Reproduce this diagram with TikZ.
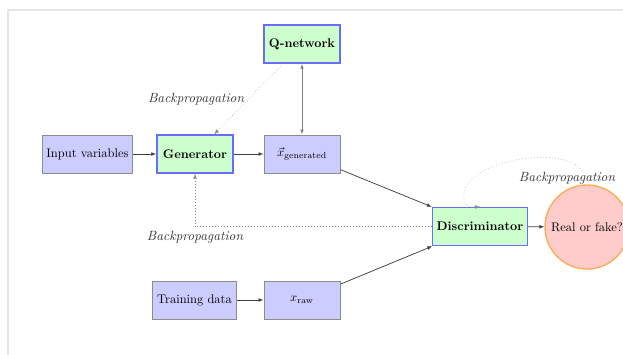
\documentclass[tikz,border=0pt]{standalone}
\usetikzlibrary{arrows.meta}
\definecolor{boxblue}{HTML}{CCCCFF}
\definecolor{boxgreen}{HTML}{CCFFCC}
\definecolor{edgeblue}{HTML}{6B6BFF}
\definecolor{circfill}{HTML}{FFCCCC}
\definecolor{circedge}{HTML}{FFAA55}
\definecolor{framegray}{HTML}{E6E6E6}
\begin{document}
\begin{tikzpicture}[x=0.8pt,y=-0.8pt,
  >={Latex[length=4pt,width=3pt]},
  plainbox/.style={draw=black!45,fill=boxblue,thick,minimum width=60.8pt,minimum height=30.4pt,inner sep=3.33pt},
  netbox/.style={draw=edgeblue,fill=boxgreen,line width=1.1pt,minimum width=60.8pt,minimum height=30.4pt,font=\bfseries},
  outcirc/.style={circle,draw=circedge,fill=circfill,line width=1.1pt,minimum size=67.2pt,inner sep=0pt},
  conn/.style={->,draw=black!75,semithick},
  backprop/.style={->,dotted,draw=black!45},
  bplabel/.style={font=\fontsize{10.7}{13}\selectfont\itshape,text=black!80}]
\useasboundingbox (0,0) rectangle (623,355);
\clip (0,0) rectangle (623,355);
\draw[framegray,line width=1.5pt] (8,355) -- (8,10) -- (623,10);

\node[netbox] (q) at (302,44) {Q-network};
\node[plainbox] (inp) at (87.5,154) {Input variables};
\node[netbox] (gen) at (195,154) {Generator};
\node[plainbox] (xgen) at (302,154) {$\vec{x}_{\mathrm{generated}}$};
\node[netbox] (disc) at (480,226.5) {Discriminator};
\node[outcirc] (real) at (587,227) {Real or fake?};
\node[plainbox] (train) at (194.5,300) {Training data};
\node[plainbox] (xraw) at (302,300) {$x_{\mathrm{raw}}$};

\draw[conn] (inp) -- (gen);
\draw[conn] (gen) -- (xgen);
\draw[<->,draw=black!50,thick] (xgen) -- (q);
\draw[conn] (xgen) -- (disc);
\draw[conn] (train) -- (xraw);
\draw[conn] (xraw) -- (disc);
\draw[conn] (disc) -- (real);

\draw[backprop] (q) -- node[midway,left,bplabel] {Backpropagation} (gen);
\draw[backprop] (disc.west) -| node[pos=0.5,below,bplabel] {Backpropagation} (gen.south);
\coordinate (loopstart) at (585,176);
\draw[backprop] (loopstart) .. controls (575,140) and (450,160) .. (465,203) .. controls (467,207) and (472,207) .. (disc.north);
\node[bplabel] (lbl) at (567,178) {Backpropagation};
\end{tikzpicture}
\end{document}
